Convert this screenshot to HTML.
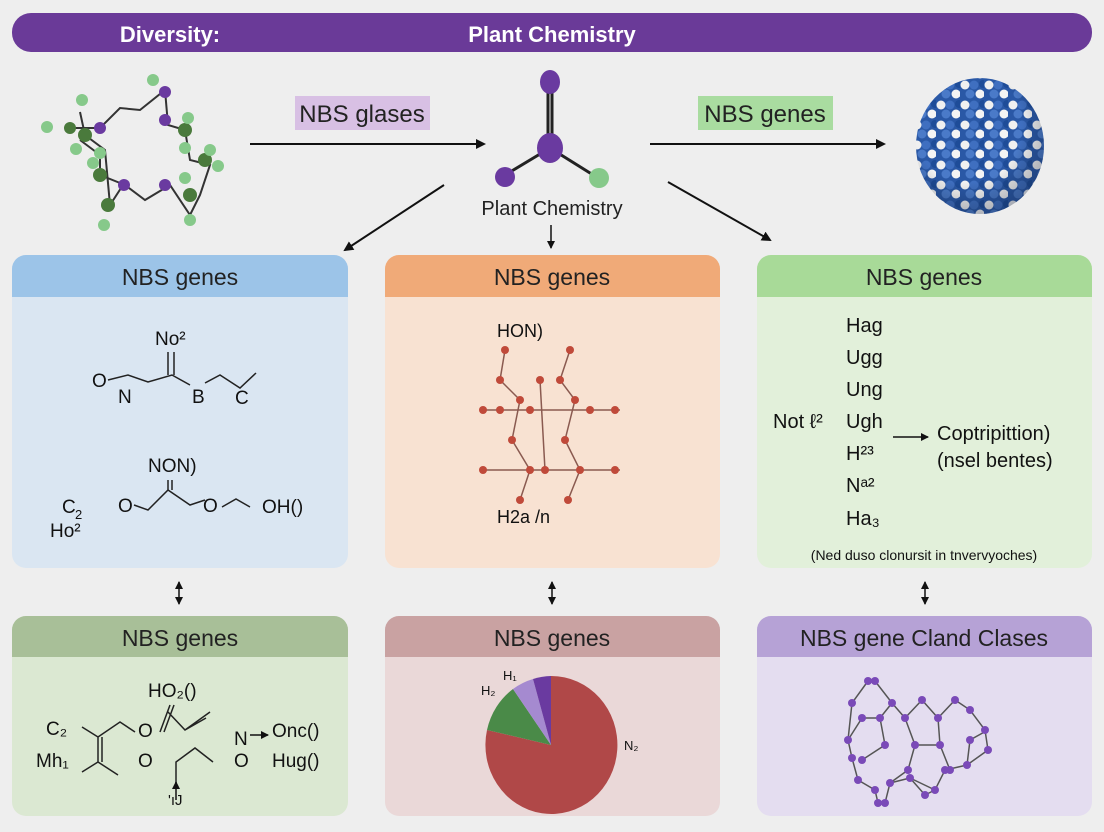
<!DOCTYPE html>
<html><head><meta charset="utf-8"><style>
body{margin:0;background:#eeeeee;}
svg{display:block;font-family:"Liberation Sans",sans-serif;}
</style></head><body>
<svg width="1104" height="832" viewBox="0 0 1104 832">
<defs>
<marker id="a" markerWidth="10" markerHeight="10" refX="8" refY="5" orient="auto" markerUnits="userSpaceOnUse"><path d="M0,0 L10,5 L0,10 z" fill="#111"/></marker>
<marker id="as" markerWidth="8" markerHeight="8" refX="7" refY="4" orient="auto-start-reverse" markerUnits="userSpaceOnUse"><path d="M0,0 L8,4 L0,8 z" fill="#111"/></marker>
<pattern id="balls" width="24" height="20" patternUnits="userSpaceOnUse">
<rect width="24" height="20" fill="#2a58a6"/>
<circle cx="5" cy="5" r="4.5" fill="#f0f0f0"/><circle cx="14" cy="5" r="4.5" fill="#3f6fc0"/>
<circle cx="10" cy="14" r="4.5" fill="#4a7ac8"/><circle cx="20" cy="14" r="4.5" fill="#f4f4f4"/>
<circle cx="23" cy="4" r="4" fill="#1e4c98"/>
</pattern>
<radialGradient id="shade" cx="0.4" cy="0.35" r="0.7"><stop offset="0.6" stop-color="#000" stop-opacity="0"/><stop offset="1" stop-color="#102040" stop-opacity="0.35"/></radialGradient>
</defs>
<rect width="1104" height="832" fill="#eeeeee"/>
<rect x="12" y="13" width="1080" height="39" rx="19" fill="#6a3a98"/>
<text x="170" y="42" fill="#fff" font-size="22" font-weight="bold" text-anchor="middle">Diversity:</text>
<text x="552" y="42" fill="#fff" font-size="22" font-weight="bold" text-anchor="middle">Plant Chemistry</text>

<!-- left molecule -->
<g stroke="#333" stroke-width="2" fill="none">
<path d="M70,128 L100,128 L120,108 L140,110 L165,90 L168,125 L185,130 L190,160 L210,165 L200,195 L190,215 L170,185 L145,200 L125,185 L100,175 L100,155 L80,140"/>
<path d="M80,112 L85,135 L105,150 L110,205 L123,185"/>
</g>
<g fill="#4a7a3c"><circle cx="85" cy="135" r="7"/><circle cx="70" cy="128" r="6"/><circle cx="185" cy="130" r="7"/><circle cx="205" cy="160" r="7"/><circle cx="100" cy="175" r="7"/><circle cx="108" cy="205" r="7"/><circle cx="190" cy="195" r="7"/></g>
<g fill="#86c98a"><circle cx="47" cy="127" r="6"/><circle cx="82" cy="100" r="6"/><circle cx="153" cy="80" r="6"/><circle cx="188" cy="118" r="6"/><circle cx="76" cy="149" r="6"/><circle cx="100" cy="153" r="6"/><circle cx="185" cy="148" r="6"/><circle cx="210" cy="150" r="6"/><circle cx="218" cy="166" r="6"/><circle cx="93" cy="163" r="6"/><circle cx="104" cy="225" r="6"/><circle cx="190" cy="220" r="6"/><circle cx="185" cy="178" r="6"/></g>
<g fill="#6a3aa0"><circle cx="100" cy="128" r="6"/><circle cx="165" cy="92" r="6"/><circle cx="165" cy="120" r="6"/><circle cx="124" cy="185" r="6"/><circle cx="165" cy="185" r="6"/></g>

<rect x="295" y="96" width="135" height="34" fill="#d8c0e4"/>
<text x="362" y="122" font-size="24" text-anchor="middle" fill="#222">NBS glases</text>
<line x1="250" y1="144" x2="484" y2="144" stroke="#111" stroke-width="2" marker-end="url(#a)"/>
<rect x="698" y="96" width="135" height="34" fill="#a9dca0"/>
<text x="765" y="122" font-size="24" text-anchor="middle" fill="#222">NBS genes</text>
<line x1="650" y1="144" x2="884" y2="144" stroke="#111" stroke-width="2" marker-end="url(#a)"/>

<!-- center molecule -->
<g stroke="#222" stroke-width="3"><line x1="548" y1="85" x2="548" y2="145"/><line x1="552" y1="85" x2="552" y2="145"/><line x1="550" y1="148" x2="505" y2="175"/><line x1="550" y1="148" x2="598" y2="178"/></g>
<ellipse cx="550" cy="82" rx="10" ry="12" fill="#6a3aa0"/>
<ellipse cx="550" cy="148" rx="13" ry="15" fill="#6a3aa0"/>
<circle cx="505" cy="177" r="10" fill="#6a3aa0"/>
<circle cx="599" cy="178" r="10" fill="#86c98a"/>
<text x="552" y="215" font-size="20" text-anchor="middle" fill="#222">Plant Chemistry</text>
<line x1="444" y1="185" x2="345" y2="250" stroke="#111" stroke-width="2" marker-end="url(#a)"/>
<line x1="551" y1="225" x2="551" y2="248" stroke="#111" stroke-width="1.5" marker-end="url(#as)"/>
<line x1="668" y1="182" x2="770" y2="240" stroke="#111" stroke-width="2" marker-end="url(#a)"/>

<!-- sphere -->
<ellipse cx="980" cy="146" rx="64" ry="68" fill="url(#balls)"/>
<ellipse cx="980" cy="146" rx="64" ry="68" fill="url(#shade)"/>

<!-- row1 panels -->
<rect x="12" y="255" width="336" height="313" rx="14" fill="#dae6f2"/>
<path d="M12,297 V269 a14,14 0 0 1 14,-14 H334 a14,14 0 0 1 14,14 V297 z" fill="#9cc4e8"/>
<text x="180" y="285" font-size="23" text-anchor="middle" fill="#222">NBS genes</text>
<rect x="385" y="255" width="335" height="313" rx="14" fill="#f8e2d2"/>
<path d="M385,297 V269 a14,14 0 0 1 14,-14 H706 a14,14 0 0 1 14,14 V297 z" fill="#f0aa78"/>
<text x="552" y="285" font-size="23" text-anchor="middle" fill="#222">NBS genes</text>
<rect x="757" y="255" width="335" height="313" rx="14" fill="#e2f0da"/>
<path d="M757,297 V269 a14,14 0 0 1 14,-14 H1078 a14,14 0 0 1 14,14 V297 z" fill="#a8da98"/>
<text x="924" y="285" font-size="23" text-anchor="middle" fill="#222">NBS genes</text>

<!-- blue content -->
<g font-size="19" fill="#111">
<text x="155" y="345">No²</text>
<text x="92" y="387">O</text><text x="118" y="403">N</text><text x="192" y="403">B</text><text x="235" y="404">C</text>
<text x="148" y="472">NON)</text>
<text x="118" y="512">O</text><text x="203" y="512">O</text><text x="262" y="513">OH()</text>
<text x="62" y="513">C</text><text x="75" y="519" font-size="13">2</text><text x="50" y="537">Ho²</text>
</g>
<g stroke="#222" stroke-width="1.5" fill="none">
<path d="M108,380 L128,375 L148,382 L172,375 L190,385 M168,352 V375 M174,352 V375 M205,383 L220,375 L240,388 L256,373"/>
<path d="M134,505 L148,510 L168,490 L190,505 L205,500 M168,480 V490 M172,480 V490 M222,507 L236,499 L250,507"/>
</g>
<!-- orange network -->
<text x="497" y="337" font-size="18" fill="#111">HON)</text>
<text x="497" y="523" font-size="18" fill="#111">H2a /n</text>
<g stroke="#8a5a50" stroke-width="1.5" fill="none">
<path d="M480,410 H620 M480,470 H620 M505,350 L500,380 L520,400 L512,440 L530,470 L520,500 M570,350 L560,380 L575,400 L565,440 L580,470 L568,500 M540,380 L545,470"/>
</g>
<g fill="#c04a3a">
<circle cx="505" cy="350" r="4"/><circle cx="570" cy="350" r="4"/><circle cx="500" cy="380" r="4"/><circle cx="560" cy="380" r="4"/><circle cx="540" cy="380" r="4"/><circle cx="520" cy="400" r="4"/><circle cx="575" cy="400" r="4"/><circle cx="483" cy="410" r="4"/><circle cx="500" cy="410" r="4"/><circle cx="530" cy="410" r="4"/><circle cx="590" cy="410" r="4"/><circle cx="615" cy="410" r="4"/><circle cx="512" cy="440" r="4"/><circle cx="565" cy="440" r="4"/><circle cx="483" cy="470" r="4"/><circle cx="530" cy="470" r="4"/><circle cx="545" cy="470" r="4"/><circle cx="580" cy="470" r="4"/><circle cx="615" cy="470" r="4"/><circle cx="520" cy="500" r="4"/><circle cx="568" cy="500" r="4"/></g>
<!-- green text -->
<g font-size="20" fill="#111">
<text x="846" y="332">Hag</text><text x="846" y="364">Ugg</text><text x="846" y="396">Ung</text><text x="846" y="428">Ugh</text><text x="846" y="460">H²³</text><text x="846" y="492">Nᵃ²</text><text x="846" y="525">Ha₃</text>
<text x="773" y="428">Not ℓ²</text>
<text x="937" y="440">Coptripittion)</text><text x="937" y="467">(nsel bentes)</text>
<text x="924" y="560" font-size="14" text-anchor="middle">(Ned duso clonursit in tnvervyoches)</text>
</g>
<line x1="893" y1="437" x2="928" y2="437" stroke="#111" stroke-width="1.5" marker-end="url(#as)"/>

<!-- double arrows -->
<line x1="179" y1="582" x2="179" y2="604" stroke="#111" stroke-width="1.5" marker-start="url(#as)" marker-end="url(#as)"/>
<line x1="552" y1="582" x2="552" y2="604" stroke="#111" stroke-width="1.5" marker-start="url(#as)" marker-end="url(#as)"/>
<line x1="925" y1="582" x2="925" y2="604" stroke="#111" stroke-width="1.5" marker-start="url(#as)" marker-end="url(#as)"/>

<!-- row2 panels -->
<rect x="12" y="616" width="336" height="200" rx="14" fill="#dbe8d2"/>
<path d="M12,657 V630 a14,14 0 0 1 14,-14 H334 a14,14 0 0 1 14,14 V657 z" fill="#a8bf98"/>
<text x="180" y="646" font-size="23" text-anchor="middle" fill="#222">NBS genes</text>
<rect x="385" y="616" width="335" height="200" rx="14" fill="#ead8d8"/>
<path d="M385,657 V630 a14,14 0 0 1 14,-14 H706 a14,14 0 0 1 14,14 V657 z" fill="#c9a2a2"/>
<text x="552" y="646" font-size="23" text-anchor="middle" fill="#222">NBS genes</text>
<rect x="757" y="616" width="335" height="200" rx="14" fill="#e4ddf0"/>
<path d="M757,657 V630 a14,14 0 0 1 14,-14 H1078 a14,14 0 0 1 14,14 V657 z" fill="#b6a2d6"/>
<text x="924" y="646" font-size="23" text-anchor="middle" fill="#222">NBS gene Cland Clases</text>

<!-- row2 green chem -->
<g font-size="19" fill="#111">
<text x="148" y="697">HO₂()</text>
<text x="46" y="735">C₂</text><text x="36" y="767">Mh₁</text>
<text x="138" y="737">O</text><text x="138" y="767">O</text>
<text x="234" y="745">N</text><text x="234" y="767">O</text>
<text x="272" y="737">Onc()</text><text x="272" y="767">Hug()</text>
<text x="168" y="805" font-size="15">'ıJ</text>
</g>
<g stroke="#222" stroke-width="1.5" fill="none">
<path d="M82,727 L98,737 L120,722 L135,732 M98,737 V762 L82,772 M102,737 V762 M98,762 L118,775 M160,732 L170,705 M164,732 L174,705 M168,712 L185,730 L210,712 M185,730 L206,718 M176,785 L176,762 L195,748 L213,762"/>
</g>
<line x1="176" y1="800" x2="176" y2="782" stroke="#111" stroke-width="1.5" marker-end="url(#as)"/>
<line x1="250" y1="735" x2="268" y2="735" stroke="#111" stroke-width="1.5" marker-end="url(#as)"/>

<!-- pie -->
<g transform="translate(551,745)">
<path d="M0,0 L0,-69 A66,69 0 1 1 -64,-15 z" fill="#b04848"/>
<path d="M0,0 L-64,-15 A66,69 0 0 1 -38,-56 z" fill="#4a8a48"/>
<path d="M0,0 L-38,-56 A66,69 0 0 1 -18,-66 z" fill="#a58ad0"/>
<path d="M0,0 L-18,-66 A66,69 0 0 1 0,-69 z" fill="#6a3aa0"/>
</g>
<text x="481" y="695" font-size="13" fill="#111">H₂</text>
<text x="503" y="680" font-size="13" fill="#111">H₁</text>
<text x="624" y="750" font-size="13" fill="#111">N₂</text>

<!-- purple cage -->
<g stroke="#555" stroke-width="1.5" fill="none">
<path d="M868,681 L875,681 L892,703 L880,718 L862,718 L848,740 L852,758 L858,780 L875,790 L878,803 L885,803 L890,783 L910,778 L925,795 L935,790 L945,770 L967,765 L988,750 L985,730 L970,710 L955,700 L938,718 L922,700 L905,718 L892,703 M880,718 L885,745 L862,760 M905,718 L915,745 L940,745 L938,718 M915,745 L908,770 L890,783 M940,745 L950,770 M967,765 L970,740 L988,730 M910,778 L935,790 M868,681 L852,703 L848,740"/>
</g>
<g fill="#7a4ab8">
<circle cx="868" cy="681" r="4"/><circle cx="875" cy="681" r="4"/><circle cx="852" cy="703" r="4"/><circle cx="892" cy="703" r="4"/><circle cx="880" cy="718" r="4"/><circle cx="862" cy="718" r="4"/><circle cx="848" cy="740" r="4"/><circle cx="852" cy="758" r="4"/><circle cx="858" cy="780" r="4"/><circle cx="875" cy="790" r="4"/><circle cx="878" cy="803" r="4"/><circle cx="885" cy="803" r="4"/><circle cx="890" cy="783" r="4"/><circle cx="910" cy="778" r="4"/><circle cx="925" cy="795" r="4"/><circle cx="935" cy="790" r="4"/><circle cx="945" cy="770" r="4"/><circle cx="967" cy="765" r="4"/><circle cx="988" cy="750" r="4"/><circle cx="985" cy="730" r="4"/><circle cx="970" cy="710" r="4"/><circle cx="955" cy="700" r="4"/><circle cx="938" cy="718" r="4"/><circle cx="922" cy="700" r="4"/><circle cx="905" cy="718" r="4"/><circle cx="885" cy="745" r="4"/><circle cx="862" cy="760" r="4"/><circle cx="915" cy="745" r="4"/><circle cx="940" cy="745" r="4"/><circle cx="908" cy="770" r="4"/><circle cx="950" cy="770" r="4"/><circle cx="970" cy="740" r="4"/></g>
</svg>
</body></html>
